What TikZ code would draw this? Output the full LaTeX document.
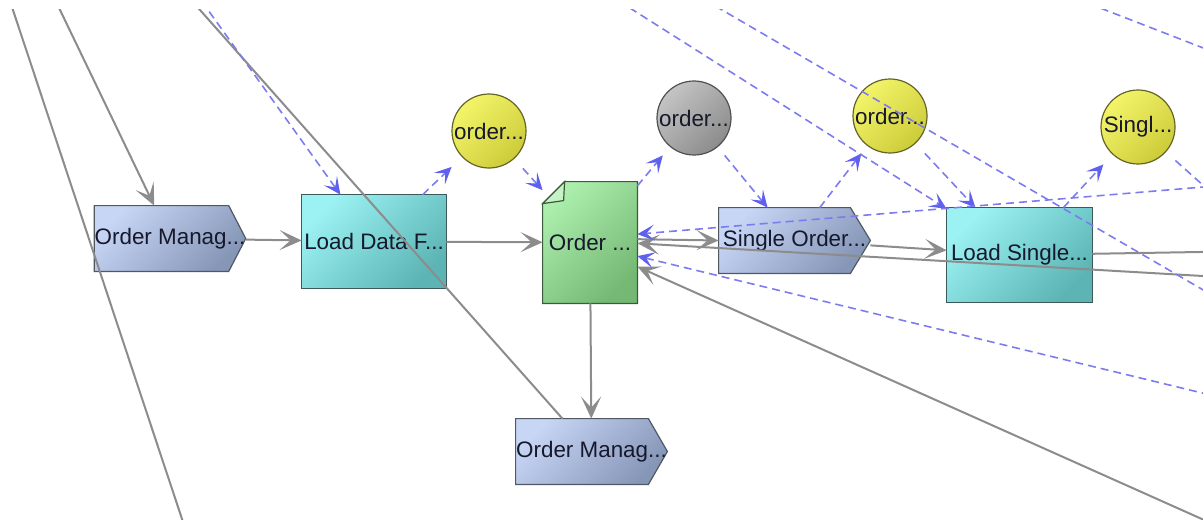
\documentclass[tikz,border=0pt]{standalone}
\usepackage{fontspec}
\setmainfont{Liberation Sans}
\usetikzlibrary{arrows.meta,calc}
\pgfdeclarelayer{bg}
\pgfsetlayers{bg,main}
\definecolor{edgegray}{RGB}{140,140,140}
\definecolor{edgeblue}{RGB}{124,124,240}
\definecolor{tipblue}{RGB}{96,96,238}
\definecolor{txtc}{RGB}{22,24,44}
\definecolor{pentL}{RGB}{200,214,246}
\definecolor{pentR}{RGB}{134,150,182}
\definecolor{pentB}{RGB}{80,88,100}
\definecolor{cyanL}{RGB}{156,242,242}
\definecolor{cyanR}{RGB}{92,180,180}
\definecolor{cyanB}{RGB}{60,90,90}
\definecolor{greenL}{RGB}{172,238,172}
\definecolor{greenR}{RGB}{116,184,116}
\definecolor{greenB}{RGB}{60,90,60}
\definecolor{yelL}{RGB}{244,244,106}
\definecolor{yelR}{RGB}{204,204,58}
\definecolor{yelB}{RGB}{100,100,40}
\definecolor{grayL}{RGB}{196,196,196}
\definecolor{grayR}{RGB}{140,140,140}
\definecolor{grayB}{RGB}{80,80,80}
\newcommand\pentshape[2]{%
  \path[pentfill] (#1.south west) -- (#1.north west) -- ($(#1.north east)+(-#2,0)$) -- (#1.east) -- ($(#1.south east)+(-#2,0)$) -- cycle;}
\begin{document}
\begin{tikzpicture}[x=0.5pt,y=-0.5pt,
  lbl/.style={rectangle, inner sep=0pt, text=txtc, font=\fontsize{11.2pt}{13pt}\selectfont},
  circnode/.style={lbl, minimum width=37pt, minimum height=37pt},
  diag/.style={shading angle=45},
  pentfill/.style={left color=pentL, right color=pentR, diag, draw=pentB, line width=0.6pt},
  cyanfill/.style={left color=cyanL, right color=cyanR, diag, draw=cyanB, line width=0.6pt},
  greenfill/.style={left color=greenL, right color=greenR, diag, draw=greenB, line width=0.6pt},
  foldfill/.style={fill=greenL!70!white, draw=greenB, line width=0.6pt},
  yelfill/.style={left color=yelL, right color=yelR, diag, draw=yelB, line width=0.6pt},
  grayfill/.style={left color=grayL, right color=grayR, diag, draw=grayB, line width=0.6pt},
  gline/.style={draw=edgegray, line width=1pt},
  gedge/.style={gline, -{Stealth[length=11pt,width=10pt,inset=5.5pt,color=edgegray]}},
  bline/.style={draw=edgeblue, line width=0.8pt, dash pattern=on 4pt off 2.5pt},
  bedge/.style={bline, -{Stealth[length=8.5pt,width=8pt,inset=4pt,color=tipblue]}}
]
\useasboundingbox (0,0) rectangle (1203,519);
% nodes
\node[lbl, minimum width=75pt, minimum height=32.5pt] (om1) at (170,238.5) {Order Manag...};
\node[lbl, minimum width=72pt, minimum height=46.5pt] (ld) at (374,241.5) {Load Data F...};
\node[lbl, minimum width=47pt, minimum height=60.5pt] (doc) at (590,242.5) {Order ...};
\node[circnode] (c1) at (489,131) {order...};
\node[circnode] (c2) at (694,118) {order...};
\node[circnode] (c3) at (890,116) {order...};
\node[circnode] (c4) at (1138,127) {Singl...};
\node[lbl, minimum width=75.5pt, minimum height=32.5pt] (so) at (794.5,240.5) {Single Order...};
\node[lbl, minimum width=72.5pt, minimum height=47pt] (ls) at (1019.5,255) {Load Single...};
\node[lbl, minimum width=75.5pt, minimum height=32.5pt] (om2) at (591.5,451.5) {Order Manag...};
% shapes behind the labels
\begin{pgfonlayer}{bg}
  \pentshape{om1}{17}
  \pentshape{so}{20}
  \pentshape{om2}{19}
  \path[cyanfill] (ld.south west) rectangle (ld.north east);
  \path[cyanfill] (ls.south west) rectangle (ls.north east);
  \path[greenfill] (doc.south west) -- ($(doc.north west)+(0,22)$) -- ($(doc.north west)+(22,0)$) -- (doc.north east) -- (doc.south east) -- cycle;
  \path[foldfill] ($(doc.north west)+(0,22)$) -- ($(doc.north west)+(22,0)$) -- ($(doc.north west)+(21,19)$) -- cycle;
  \path[yelfill] (c1.center) circle (18.5pt);
  \path[grayfill] (c2.center) circle (18.5pt);
  \path[yelfill] (c3.center) circle (18.5pt);
  \path[yelfill] (c4.center) circle (18.5pt);
\end{pgfonlayer}
% free ends outside the visible area
\coordinate (pG1) at (45.6,-20);
\coordinate (pG2a) at (3,-20);
\coordinate (pG2b) at (189,540);
\coordinate (pG3) at (173.4,-20);
\coordinate (pD1) at (186.5,-20);
\coordinate (pA) at (585.7,-20);
\coordinate (pB1) at (670.5,-20);
\coordinate (pB2) at (1260,323);
\coordinate (pC1) at (1028,-20);
\coordinate (pC2) at (1260,70);
\coordinate (pD) at (1243,221);
\coordinate (pE) at (1260,182.3);
\coordinate (pF) at (1260,407);
\coordinate (pGG) at (1260,545);
\coordinate (pCc) at (1260,279.3);
\coordinate (pH) at (1260,251);
\begin{scope}
  \clip (0,10) rectangle (1203,519);
  % gray connectors
  \draw[gedge] (pG1) -- (om1);
  \draw[gline] (pG2a) -- (pG2b);
  \draw[gline] (pG3) -- (om2);
  \draw[gedge] (om1) -- (ld);
  \draw[gedge] (ld) -- (doc);
  \draw[gedge] (doc) -- (om2);
  \draw[gedge] (doc.4) -- (so.west);
  \draw[gedge] (pCc) -- (doc.-1);
  \draw[gedge] (pGG) -- (doc.-27);
  \draw[gedge] (so) -- (ls);
  \draw[gline] (ls) -- (pH);
  % blue dashed connectors
  \draw[bedge] (pD1) -- (ld);
  \draw[bedge] (ld) -- (c1);
  \draw[bedge] (c1) -- (doc);
  \draw[bedge] (doc) -- (c2);
  \draw[bedge] (c2) -- (so);
  \draw[bedge] (so) -- (c3);
  \draw[bedge] (c3) -- (ls);
  \draw[bedge] (ls) -- (c4);
  \draw[bedge] (pA) -- (ls);
  \draw[bline] (pB1) -- (pB2);
  \draw[bline] (pC1) -- (pC2);
  \draw[bline] (c4) -- (pD);
  \draw[bedge] (pE) -- (doc.10);
  \draw[bedge] (pF) -- (doc.-16);
\end{scope}
\end{tikzpicture}
\end{document}
